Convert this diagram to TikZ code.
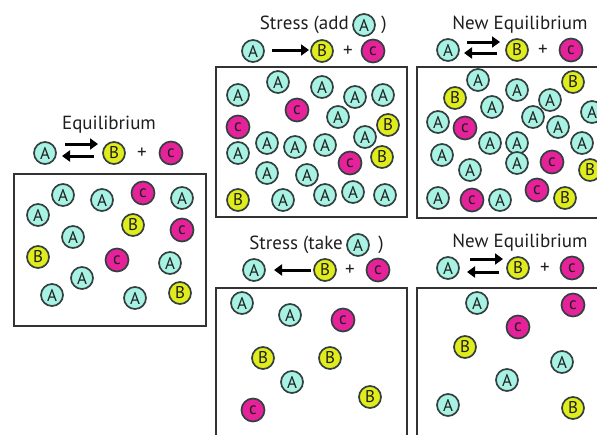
\documentclass[tikz,border=0pt]{standalone}
\usepackage{fontspec}
\setmainfont{PT Sans}
\usetikzlibrary{arrows.meta}
\definecolor{aqua}{HTML}{A8F2E4}
\definecolor{yel}{HTML}{E0EC1C}
\definecolor{mag}{HTML}{E6229A}
\definecolor{rim}{HTML}{34403F}
\definecolor{ink}{HTML}{1E1E1E}
\begin{document}
\begin{tikzpicture}[x=1pt,y=-1pt,
 ball/.style={circle,draw=rim,line width=1.7pt,minimum size=22pt,inner sep=0pt,text=ink,font=\fontsize{17}{17}\selectfont},
 ba/.style={ball,fill=aqua},
 bb/.style={ball,fill=yel},
 bc/.style={ball,fill=mag,minimum size=23pt},
 frame/.style={draw=black!80,line width=1.5pt},
 ttl/.style={font=\fontsize{19}{19}\selectfont,inner sep=0pt,text=ink},
 arr/.style={line width=3pt,-{Triangle[length=8pt,width=11pt]}},
 plus/.style={font=\fontsize{19}{19}\selectfont,inner sep=0pt,text=ink}]
\useasboundingbox (0,0) rectangle (597,434);
\clip (0,0) rectangle (597,434);

% frames
\draw[frame] (14,174) rectangle (206,326);
\draw[frame] (216,67) rectangle (407,217);
\draw[frame] (417,67) rectangle (620,218);
\draw[frame] (216,288) rectangle (407,450);
\draw[frame] (417,288) rectangle (620,450);

% ---------- left: Equilibrium
\node[ttl] (t0) at (109,125) {Equilibrium};
\node[ba] (e0a) at (45,153) {A};
\node[bb] (e0b) at (114,153) {B};
\node[plus] (e0p) at (142,153) {+};
\node[bc] (e0c) at (171,153) {c};
\coordinate (e0r1) at (65,144); \coordinate (e0r2) at (98,144);
\coordinate (e0l1) at (94,156); \coordinate (e0l2) at (62,156);
\draw[arr] (e0r1) -- (e0r2);
\draw[arr] (e0l1) -- (e0l2);
\foreach \x/\y [count=\i] in {63/195,102/200,182/198,38/215,73/237,170/263,82/278,52/295,135/298}
  \node[ba] (L-a\i) at (\x,\y) {A};
\foreach \x/\y [count=\i] in {133/225,38/257,180/293}
  \node[bb] (L-b\i) at (\x,\y) {B};
\foreach \x/\y [count=\i] in {143/193,182/230,117/260}
  \node[bc] (L-c\i) at (\x,\y) {c};

% ---------- top middle: Stress (add A)
\node[ttl,anchor=east] (t1) at (349,25) {Stress (add};
\node[ba] (t1a) at (364,25) {A};
\node[ttl] (t1p) at (384,25) {)};
\node[ba] (e1a) at (253,51) {A};
\node[bb] (e1b) at (322,51) {B};
\node[plus] (e1p) at (348,51) {+};
\node[bc] (e1c) at (373,51) {c};
\coordinate (e1r1) at (272,50); \coordinate (e1r2) at (309,50);
\draw[arr] (e1r1) -- (e1r2);
\foreach \x/\y [count=\i] in {238/95,278/82,322/87,355/97,383/95,338/117,267/143,238/153,295/147,325/145,365/137,267/173,307/175,283/200,325/195,353/192,385/195}
  \node[ba] (M-a\i) at (\x,\y) {A};
\foreach \x/\y [count=\i] in {388/125,382/157,238/200}
  \node[bb] (M-b\i) at (\x,\y) {B};
\foreach \x/\y [count=\i] in {297/110,238/127,350/163}
  \node[bc] (M-c\i) at (\x,\y) {c};

% ---------- top right: New Equilibrium
\node[ttl] (t2) at (520,25) {New Equilibrium};
\node[ba] (e2a) at (448,50) {A};
\node[bb] (e2b) at (517,50) {B};
\node[plus] (e2p) at (543,50) {+};
\node[bc] (e2c) at (571,50) {c};
\coordinate (e2r1) at (467,42); \coordinate (e2r2) at (500,42);
\coordinate (e2l1) at (497,53); \coordinate (e2l2) at (464,53);
\draw[arr] (e2r1) -- (e2r2);
\draw[arr] (e2l1) -- (e2l2);
\foreach \x/\y [count=\i] in {478/80,517/90,492/107,550/100,592/112,438/122,533/117,558/127,490/143,517/143,582/143,442/155,470/170,517/163,438/198,500/200}
  \node[ba] (R-a\i) at (\x,\y) {A};
\foreach \x/\y [count=\i] in {573/82,455/98,590/170,565/198}
  \node[bb] (R-b\i) at (\x,\y) {B};
\foreach \x/\y [count=\i] in {465/128,552/162,472/200,537/190}
  \node[bc] (R-c\i) at (\x,\y) {c};

% ---------- bottom middle: Stress (take A)
\node[ttl,anchor=east] (t3) at (343,245) {Stress (take};
\node[ba] (t3a) at (358,245) {A};
\node[ttl] (t3p) at (381,245) {)};
\node[ba] (e3a) at (254,270) {A};
\node[bb] (e3b) at (325,270) {B};
\node[plus] (e3p) at (350,270) {+};
\node[bc] (e3c) at (378,270) {c};
\coordinate (e3l1) at (311,270); \coordinate (e3l2) at (274,270);
\draw[arr] (e3l1) -- (e3l2);
\foreach \x/\y [count=\i] in {242/303,290/315,292/382}
  \node[ba] (D-a\i) at (\x,\y) {A};
\foreach \x/\y [count=\i] in {263/358,330/358,370/397}
  \node[bb] (D-b\i) at (\x,\y) {B};
\foreach \x/\y [count=\i] in {343/320,253/410}
  \node[bc] (D-c\i) at (\x,\y) {c};

% ---------- bottom right: New Equilibrium
\node[ttl] (t4) at (520,243) {New Equilibrium};
\node[ba] (e4a) at (448,268) {A};
\node[bb] (e4b) at (518,268) {B};
\node[plus] (e4p) at (545,268) {+};
\node[bc] (e4c) at (572,268) {c};
\coordinate (e4r1) at (470,259); \coordinate (e4r2) at (503,259);
\coordinate (e4l1) at (499,272); \coordinate (e4l2) at (467,272);
\draw[arr] (e4r1) -- (e4r2);
\draw[arr] (e4l1) -- (e4l2);
\foreach \x/\y [count=\i] in {477/303,562/362,507/380,448/405}
  \node[ba] (E-a\i) at (\x,\y) {A};
\foreach \x/\y [count=\i] in {465/347,573/408}
  \node[bb] (E-b\i) at (\x,\y) {B};
\foreach \x/\y [count=\i] in {573/305,518/327}
  \node[bc] (E-c\i) at (\x,\y) {c};
\end{tikzpicture}
\end{document}
